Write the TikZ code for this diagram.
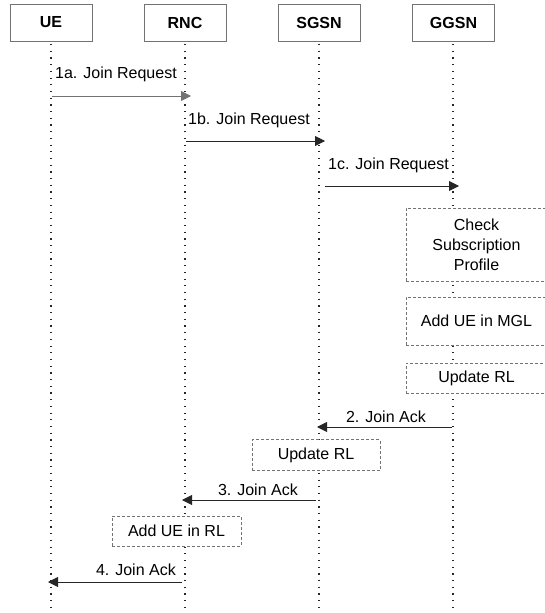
\documentclass[tikz,border=0pt]{standalone}
\usepackage{fontspec}
\setmainfont{Liberation Sans}
\usetikzlibrary{arrows.meta}
\begin{document}
\begin{tikzpicture}[x=1pt,y=-1pt,
  font=\fontsize{16}{20}\selectfont,
  actor/.style={draw=black!55,line width=0.8pt,fill=white,minimum width=82pt,minimum height=37pt,inner sep=0pt,font=\fontsize{16}{20}\selectfont\bfseries},
  life/.style={draw=black!85,line width=1.2pt,dash pattern=on 1.2pt off 5.5pt},
  msg/.style={draw=black!85,line width=0.9pt,-{Triangle[length=10pt,width=10pt]}},
  act/.style={draw=black!55,dash pattern=on 3pt off 2pt,line width=0.7pt,fill=white,inner sep=0pt,align=center},
  lbl/.style={inner sep=0pt}]
\useasboundingbox (0,0) rectangle (545,613);
% lifelines
\coordinate (ueT) at (51,44); \coordinate (ueB) at (51,613);
\coordinate (rncT) at (185,44); \coordinate (rncB) at (185,613);
\coordinate (sgT) at (319,44); \coordinate (sgB) at (319,613);
\coordinate (ggT) at (453,44); \coordinate (ggB) at (453,613);
\draw[life] (ueT) -- (ueB);
\draw[life] (rncT) -- (rncB);
\draw[life] (sgT) -- (sgB);
\draw[life] (ggT) -- (ggB);
% actors
\node[actor] (ue) at (51,22.5) {UE};
\node[actor] (rnc) at (185,22.5) {RNC};
\node[actor] (sgsn) at (319,22.5) {SGSN};
\node[actor] (ggsn) at (453.5,22.5) {GGSN};
% messages
\coordinate (m1s) at (52,96); \coordinate (m1e) at (191,96);
\draw[msg,draw=black!55] (m1s) -- (m1e);
\node[lbl,anchor=west,fill=white] (l1) at (55,74) {1a. Join Request};
\coordinate (m2s) at (186,141); \coordinate (m2e) at (325,141);
\draw[msg] (m2s) -- (m2e);
\node[lbl,anchor=west,fill=white] (l2) at (188,120) {1b. Join Request};
\coordinate (m3s) at (325,186); \coordinate (m3e) at (459,186);
\draw[msg] (m3s) -- (m3e);
\node[lbl,anchor=west,fill=white] (l3) at (328,165) {1c. Join Request};
% GGSN actions
\node[act,minimum width=141pt,minimum height=73pt] (chk) at (476.5,244.5) {Check\\Subscription\\Profile};
\node[act,minimum width=141pt,minimum height=48pt] (mgl) at (476.5,321) {Add UE in MGL};
\node[act,minimum width=141pt,minimum height=30pt] (url1) at (476.5,378) {Update RL};
% acks
\coordinate (a2s) at (452,427); \coordinate (a2e) at (317,427);
\draw[msg] (a2s) -- (a2e);
\node[lbl,anchor=east] (la2) at (426,417) {2. Join Ack};
\node[act,minimum width=128pt,minimum height=31pt] (url2) at (316,455) {Update RL};
\coordinate (a3s) at (316,500); \coordinate (a3e) at (182,500);
\draw[msg] (a3s) -- (a3e);
\node[lbl,anchor=east] (la3) at (298,490) {3. Join Ack};
\node[act,minimum width=129pt,minimum height=30pt] (uerl) at (176.5,531) {Add UE in RL};
\coordinate (a4s) at (182,582); \coordinate (a4e) at (48,582);
\draw[msg] (a4s) -- (a4e);
\node[lbl,anchor=east] (la4) at (176,570) {4. Join Ack};
\end{tikzpicture}
\end{document}
